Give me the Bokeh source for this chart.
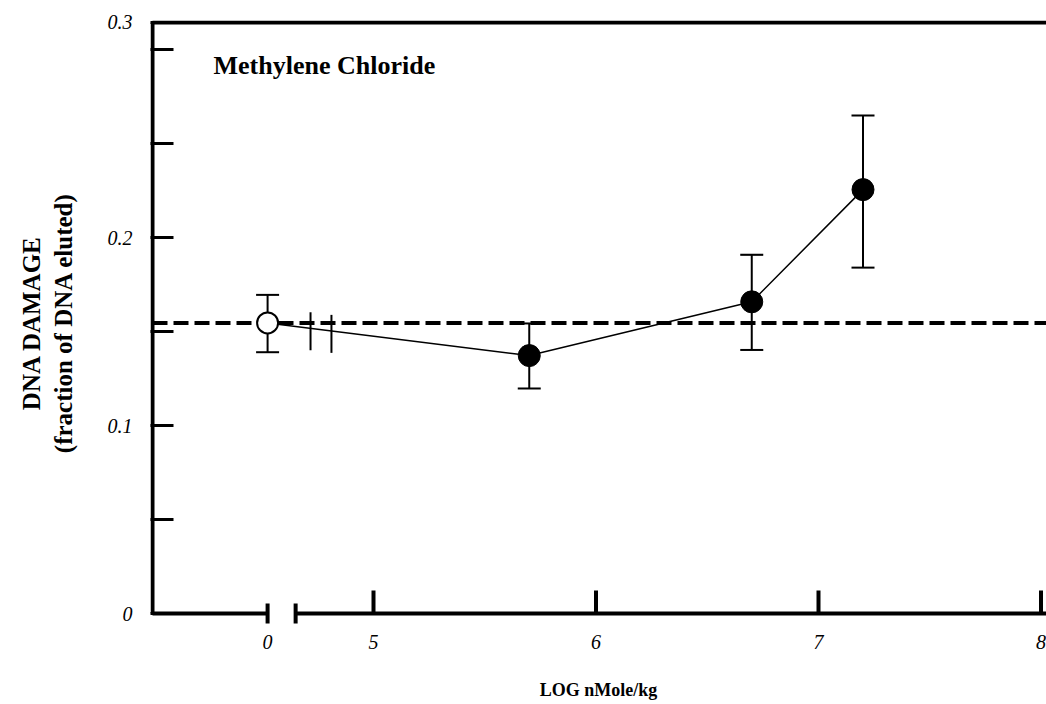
import numpy as np
from bokeh.plotting import figure
from bokeh.models import (ColumnDataSource, FixedTicker, Label, Whisker, TeeHead)
from bokeh.embed import file_html
from bokeh.resources import INLINE

# ---- data ----
control_label = "0"
control_mean = 0.1546
control_hi = 0.1695
control_lo = 0.1390

dose_log = [5.7, 6.7, 7.2]
damage = [0.1372, 0.1658, 0.2255]
err_hi = [0.1543, 0.1908, 0.2649]
err_lo = [0.1197, 0.1402, 0.1840]

x_tick_values = [5, 6, 7, 8]
x_tick_labels = ["5", "6", "7", "8"]
y_tick_values = [0, 0.1, 0.2, 0.3]
y_tick_labels = ["0", "0.1", "0.2", "0.3"]
y_minor_values = [0.05, 0.15, 0.25]

title_text = "Methylene Chloride"
x_title = "LOG nMole/kg"
y_title = "DNA DAMAGE\n(fraction of DNA eluted)"

# ---- layout constants (broken axis) ----
PX_X = 222.5          # pixels per log unit
PX_Y = 1880.0         # pixels per damage unit
CONTROL_POS = 4.524   # where the control ("0") sits on the broken axis
BREAK_POS = 4.65      # right side of the axis break
AXIS_LEFT = 5 - 221 / PX_X
X_START = AXIS_LEFT - 2 / PX_X
X_END = X_START + (1046 - 150) / PX_X
Y_TOP = 0.3144
Y_START = -12 / PX_Y
Y_END = Y_TOP + 2 / PX_Y

p = figure(width=1046, height=704, x_range=(X_START, X_END), y_range=(Y_START, Y_END),
           output_backend="svg", toolbar_location=None,
           min_border_left=150, min_border_right=0, min_border_top=20, min_border_bottom=79)
p.outline_line_color = None
p.xgrid.visible = False
p.ygrid.visible = False
p.background_fill_color = "white"

serif = "Liberation Serif"

# ---- y axis (labels; ticks drawn inward) ----
yax = p.yaxis[0]
yax.axis_line_color = None
label_pos = [v if v < 0.3 else Y_TOP for v in y_tick_values]
yax.ticker = FixedTicker(ticks=label_pos, minor_ticks=y_minor_values + [0.3])
yax.major_label_overrides = {pos: lab for pos, lab in zip(label_pos, y_tick_labels)}
yax.major_tick_in = 23
yax.major_tick_out = 0
yax.minor_tick_in = 23
yax.minor_tick_out = 0
yax.major_tick_line_width = 3
yax.minor_tick_line_width = 3
yax.major_tick_line_color = "black"
yax.minor_tick_line_color = "black"
yax.major_label_text_font = serif
yax.major_label_text_font_style = "italic"
yax.major_label_text_font_size = "20px"
yax.major_label_text_color = "black"
yax.major_label_text_baseline = "alphabetic"
yax.major_label_standoff = 18
yax.axis_label = y_title
yax.axis_label_text_font = serif
yax.axis_label_text_font_style = "bold"
yax.axis_label_text_font_size = "25px"
yax.axis_label_text_color = "black"
yax.axis_label_text_line_height = 1.15
yax.axis_label_standoff = 28

# ---- x axis (labels only) ----
xax = p.xaxis[0]
xax.axis_line_color = None
xax.ticker = FixedTicker(ticks=[CONTROL_POS] + x_tick_values)
xax.major_label_overrides = dict(zip([CONTROL_POS] + x_tick_values, [control_label] + x_tick_labels))
xax.major_tick_line_color = None
xax.minor_tick_line_color = None
xax.major_label_text_font = serif
xax.major_label_text_font_style = "italic"
xax.major_label_text_font_size = "20px"
xax.major_label_text_color = "black"
xax.major_label_standoff = 3
xax.axis_label = x_title
xax.axis_label_text_font = serif
xax.axis_label_text_font_style = "bold"
xax.axis_label_text_font_size = "18px"
xax.axis_label_text_color = "black"
xax.axis_label_standoff = 28

# ---- frame lines: left axis, top line, broken bottom axis ----
p.segment(x0=[AXIS_LEFT, AXIS_LEFT], y0=[0, Y_TOP], x1=[AXIS_LEFT, X_END], y1=[Y_TOP, Y_TOP],
          line_color="black", line_width=4)
p.segment(x0=[AXIS_LEFT, BREAK_POS], y0=[0, 0], x1=[CONTROL_POS, X_END], y1=[0, 0],
          line_color="black", line_width=4)
# x ticks pointing up
tick_len = 23 / PX_Y
p.segment(x0=x_tick_values, y0=[0] * len(x_tick_values), x1=x_tick_values,
          y1=[tick_len] * len(x_tick_values), line_color="black", line_width=4)
# break caps
cap = 10 / PX_Y
p.segment(x0=[CONTROL_POS, BREAK_POS], y0=[-cap, -cap], x1=[CONTROL_POS, BREAK_POS], y1=[cap, cap],
          line_color="black", line_width=4)

# ---- control reference dashed line ----
p.segment(x0=[AXIS_LEFT], y0=[control_mean], x1=[X_END], y1=[control_mean],
          line_color="black", line_width=4, line_dash="15 6")

# ---- data line ----
line_x = [CONTROL_POS] + dose_log
line_y = [control_mean] + damage
p.line(line_x, line_y, line_color="black", line_width=1.5)

# break marks on data line
brk_x = [4.717, 4.811]
brk_y = list(np.interp(brk_x, line_x, line_y))
p.segment(x0=brk_x, y0=[y - 22 / PX_Y for y in brk_y], x1=brk_x, y1=[y + 16 / PX_Y for y in brk_y],
          line_color="black", line_width=2)

# ---- error bars ----
src = ColumnDataSource(dict(x=dose_log, y=damage, hi=err_hi, lo=err_lo))
csrc = ColumnDataSource(dict(x=[CONTROL_POS], y=[control_mean], hi=[control_hi], lo=[control_lo]))
for s in (src, csrc):
    w = Whisker(source=s, base="x", upper="hi", lower="lo", line_color="black", line_width=2,
                upper_head=TeeHead(size=23, line_width=2, line_color="black"),
                lower_head=TeeHead(size=23, line_width=2, line_color="black"),
                level="underlay")
    p.add_layout(w)

# ---- markers ----
p.scatter("x", "y", source=src, size=22, fill_color="black", line_color="black", line_width=1)
p.scatter("x", "y", source=csrc, size=21, fill_color="white", line_color="black", line_width=2)

# ---- title inside the frame ----
p.add_layout(Label(x=5 - (373 - 213) / PX_X, y=(613 - 65) / PX_Y, text=title_text,
                   text_font=serif, text_font_style="bold", text_font_size="26px",
                   text_color="black", text_baseline="alphabetic", text_align="left"))

open("out.html", "w").write(file_html(p, INLINE))
